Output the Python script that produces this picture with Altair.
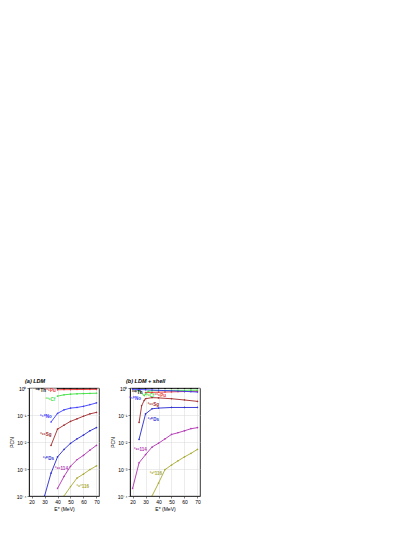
import altair as alt
import pandas as pd

# ---------------- data ----------------
names = ["Th", "Pu", "Cf", "No", "Sg", "Ds", "114", "116"]
colors = ["#000000", "#e8312f", "#3ee03e", "#3a3aff", "#a0282a", "#2828d0", "#b030b0", "#a8a830"]
labels = ["²²⁰Th", "²²⁶Pu", "²³⁶Cf", "²⁵⁰No", "²⁶⁶Sg", "²⁷⁰Ds", "²⁸⁶114", "²⁹²116"]

# panel (a) LDM
a_x = {
    "Th": [40, 45, 50, 55, 60, 65, 70],
    "Pu": [40, 45, 50, 55, 60, 65, 70],
    "Cf": [40, 45, 50, 55, 60, 65, 70],
    "No": [35, 40, 45, 50, 55, 60, 65, 70],
    "Sg": [35, 40, 45, 50, 55, 60, 65, 70],
    "Ds": [30, 35, 40, 45, 50, 55, 60, 65, 70],
    "114": [40, 45, 50, 55, 60, 65, 70],
    "116": [45, 50, 55, 60, 65, 70],
}
a_y = {
    "Th": [0.97, 0.97, 0.97, 0.98, 0.98, 0.98, 0.98],
    "Pu": [0.86, 0.87, 0.87, 0.88, 0.88, 0.89, 0.89],
    "Cf": [0.50, 0.56, 0.59, 0.61, 0.62, 0.63, 0.64],
    "No": [0.055, 0.115, 0.155, 0.18, 0.19, 0.21, 0.24, 0.28],
    "Sg": [0.0075, 0.03, 0.042, 0.058, 0.072, 0.09, 0.11, 0.125],
    "Ds": [1.0e-4, 7e-4, 0.0028, 0.0053, 0.0089, 0.013, 0.018, 0.026, 0.034],
    "114": [1.9e-4, 5.3e-4, 1.26e-3, 2.2e-3, 3.2e-3, 5.0e-3, 7.5e-3],
    "116": [1.0e-4, 2.2e-4, 4.6e-4, 6.5e-4, 9.5e-4, 1.3e-3],
}
a_lab_x = [27, 34.5, 34.5, 31, 31, 33, 43, 59.5]
a_lab_y = [0.75, 0.75, 0.37, 0.086, 0.018, 0.0024, 0.001, 0.00022]

# panel (b) LDM + shell
b_x = {
    "Th": [20, 25, 30, 35, 40, 45, 50, 55, 60, 65, 70],
    "Pu": [30, 35, 40, 45, 50, 55, 60, 65, 70],
    "Cf": [25, 29, 32, 35, 40, 45, 50, 55, 60, 65, 70],
    "No": [20, 25, 30, 35, 40, 45, 50, 55, 60, 65, 70],
    "Sg": [25, 27, 29, 30, 35, 40, 50, 60, 70],
    "Ds": [25, 30, 35, 40, 50, 60, 70],
    "114": [20, 25, 30, 35, 40, 45, 50, 55, 60, 65, 70],
    "116": [35, 40, 45, 50, 55, 60, 65, 70],
}
b_y = {
    "Th": [0.98, 0.98, 0.98, 0.98, 0.98, 0.98, 0.98, 0.98, 0.98, 0.98, 0.98],
    "Pu": [0.68, 0.69, 0.70, 0.71, 0.72, 0.73, 0.74, 0.75, 0.76],
    "Cf": [0.78, 0.52, 0.76, 0.80, 0.81, 0.81, 0.82, 0.82, 0.82, 0.83, 0.83],
    "No": [0.90, 0.88, 0.86, 0.84, 0.82, 0.80, 0.79, 0.77, 0.75, 0.73, 0.71],
    "Sg": [0.053, 0.22, 0.35, 0.40, 0.44, 0.43, 0.40, 0.36, 0.32],
    "Ds": [0.0126, 0.11, 0.17, 0.18, 0.19, 0.19, 0.19],
    "114": [1.9e-4, 1.7e-3, 3.4e-3, 6.5e-3, 9e-3, 0.013, 0.019, 0.022, 0.026, 0.031, 0.034],
    "116": [1.0e-4, 3.0e-4, 9.5e-4, 1.4e-3, 2.0e-3, 2.8e-3, 3.8e-3, 5.3e-3],
}
b_lab_x = [23.5, 41.5, 33, 22, 36, 36, 26, 38]
b_lab_y = [0.66, 0.52, 0.52, 0.40, 0.23, 0.065, 0.005, 0.00065]

x_ticks = [20, 30, 40, 50, 60, 70]
y_ticks = [1e-4, 1e-3, 1e-2, 1e-1, 1]

FONT = "Liberation Sans"


def frame_df(xd, yd):
    rows = []
    for n in names:
        for xv, yv in zip(xd[n], yd[n]):
            rows.append({"name": n, "E": xv, "P": yv})
    return pd.DataFrame(rows)


def label_df(lx, ly):
    return pd.DataFrame({"name": names, "E": lx, "P": ly, "text": labels})


ylab_expr = ("datum.value >= 0.99 ? '10⁰' : datum.value >= 0.099 ? '10⁻¹' : "
             "datum.value >= 0.0099 ? '10⁻²' : datum.value >= 0.00099 ? '10⁻³' : '10⁻⁴'")

color_scale = alt.Scale(domain=names, range=colors)

x_axis = alt.Axis(values=x_ticks, title="E* (MeV)", grid=True, tickCount=6,
                  labelOverlap=False, labelFlush=False, labelBound=False, format="d")
y_axis = alt.Axis(values=y_ticks, labelExpr=ylab_expr, title="PCN", grid=True,
                  labelOverlap=False, labelFlush=False, labelBound=False)


def panel(xd, yd, lx, ly, title):
    df = frame_df(xd, yd)
    x = alt.X("E:Q", scale=alt.Scale(domain=[18, 72], nice=False), axis=x_axis)
    y = alt.Y("P:Q", scale=alt.Scale(type="log", domain=[1e-4, 1.0], nice=False), axis=y_axis)
    col = alt.Color("name:N", scale=color_scale, legend=None)
    lines = alt.Chart(df).mark_line(
        strokeWidth=0.9, clip=True,
        point=alt.OverlayMarkDef(shape="cross", size=3, filled=True, clip=True),
    ).encode(x=x, y=y, color=col, detail="name:N", order="E:Q")
    txt = alt.Chart(label_df(lx, ly)).mark_text(
        fontSize=4.5, fontWeight="bold", font=FONT, align="center", baseline="middle"
    ).encode(x=x, y=y, text="text:N", color=col)
    return alt.layer(lines, txt).properties(
        width=70, height=108,
        title=alt.TitleParams(title, anchor="start", frame="group", dx=-4,
                              fontSize=5.5, fontWeight="bold",
                              font=FONT, fontStyle="italic", offset=2),
    )


pa = panel(a_x, a_y, a_lab_x, a_lab_y, "(a) LDM")
pb = panel(b_x, b_y, b_lab_x, b_lab_y, "(b) LDM + shell")

chart = alt.hconcat(pa, pb, spacing=9).properties(
    padding={"left": 0, "top": 370, "right": 5, "bottom": 5}
).configure_view(stroke="#000000", strokeWidth=0.8).configure_axis(
    labelFont=FONT, titleFont=FONT, labelFontSize=5, titleFontSize=5,
    titleFontWeight="normal", gridColor="#d8d8d8", gridWidth=0.5,
    domainColor="#000000", domainWidth=0.6, tickColor="#000000", tickSize=2,
    tickWidth=0.5, labelPadding=1, titlePadding=2, labelColor="#000000",
    titleColor="#000000", labelOverlap=False,
)

chart.save("out.html", embed_options={"renderer": "svg", "actions": False})
